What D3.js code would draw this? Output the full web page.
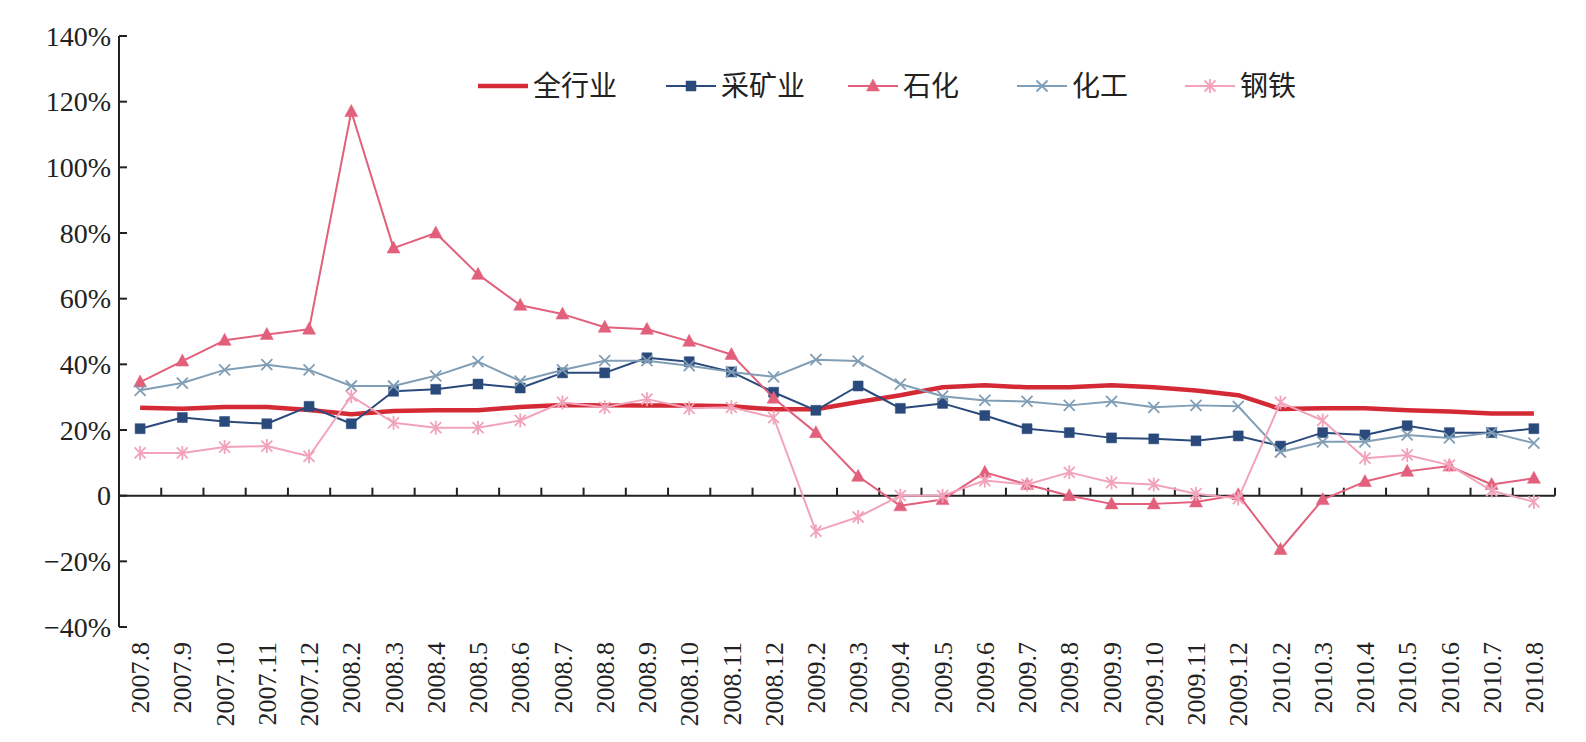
<!DOCTYPE html>
<html>
<head>
<meta charset="utf-8">
<script src="https://cdn.jsdelivr.net/npm/d3@7"></script>
<style>
  body { margin: 0; background: #fff; }
  svg { display: block; }
  .tick-label { font-family: "Liberation Serif", "DejaVu Serif", serif; fill: #222; }
  .legend text { font-family: "Noto Sans CJK SC", sans-serif; fill: #222; }
</style>
</head>
<body>
<svg width="1586" height="742"></svg>
<script>
var months = ["2007.8", "2007.9", "2007.10", "2007.11", "2007.12",
	"2008.2", "2008.3", "2008.4", "2008.5", "2008.6", "2008.7", "2008.8", "2008.9", "2008.10", "2008.11", "2008.12",
	"2009.2", "2009.3", "2009.4", "2009.5", "2009.6", "2009.7", "2009.8", "2009.9", "2009.10", "2009.11", "2009.12",
	"2010.2", "2010.3", "2010.4", "2010.5", "2010.6", "2010.7", "2010.8"];

var yTicks = [-40, -20, 0, 20, 40, 60, 80, 100, 120, 140];

// growth, %
var allIndustry = [26.8, 26.5, 27, 27, 26.1, 24.8, 25.8, 26, 26, 27, 27.6, 27.5, 27.5, 27.5, 27.2, 26.3,
	26.3, 28.5, 30.6, 33, 33.6, 33, 33, 33.6, 33, 32, 30.6,
	26.4, 26.6, 26.6, 26, 25.6, 25, 25];
var mining = [20.4, 23.8, 22.6, 21.9, 27.2, 21.9, 31.8, 32.4, 34, 32.8, 37.4, 37.4, 42, 40.8, 37.7, 31.5,
	26, 33.4, 26.6, 28.1, 24.4, 20.4, 19.2, 17.6, 17.3, 16.7, 18.2,
	15.1, 19.2, 18.5, 21.3, 19.2, 19.2, 20.4];
var petro = [34.6, 41, 47.3, 49.1, 50.7, 117, 75.4, 80, 67.4, 58, 55.3, 51.3, 50.7, 47, 43, 29.7,
	19.2, 5.9, -3.1, -1.2, 7.1, 3.4, 0, -2.5, -2.5, -1.9, 0.3,
	-16.4, -1.2, 4.3, 7.4, 9, 3.4, 5.3];
var chem = [32.1, 34.3, 38.3, 39.9, 38.3, 33.4, 33.4, 36.5, 40.8, 34.9, 38.3, 41.1, 41.1, 39.6, 37.7, 36.2,
	41.4, 41, 34, 30.3, 29, 28.7, 27.5, 28.7, 26.9, 27.5, 27.2,
	13.3, 16.4, 16.4, 18.5, 17.6, 19.2, 16];
var steel = [13, 13, 14.8, 15.1, 12, 30.3, 22.2, 20.7, 20.7, 22.9, 28.4, 26.9, 29.4, 26.6, 26.9, 23.8,
	-10.8, -6.5, 0, 0, 4.6, 3.4, 7.1, 4, 3.4, 0.6, -0.9,
	28.4, 22.9, 11.4, 12.4, 9.3, 1.5, -1.9];

var seriesNames = ["全行业", "采矿业", "石化", "化工", "钢铁"];

var series = [
	{name: seriesNames[0], values: allIndustry, color: "#d42a35", width: 4.5, marker: "none"},
	{name: seriesNames[1], values: mining, color: "#2b4a7c", width: 2, marker: "square"},
	{name: seriesNames[2], values: petro, color: "#e2607c", width: 2, marker: "triangle"},
	{name: seriesNames[3], values: chem, color: "#809eb5", width: 2, marker: "times"},
	{name: seriesNames[4], values: steel, color: "#f2a3ba", width: 2, marker: "asterisk"}
];

var svg = d3.select("svg");

var x = d3.scaleBand()
	.domain(months)
	.range([119, 1555]);

var y = d3.scaleLinear()
	.domain([-40, 140])
	.range([627, 36]);

// y axis
var yAxis = svg.append("g");
yAxis.append("line")
	.attr("x1", 119).attr("x2", 119)
	.attr("y1", y(-40)).attr("y2", y(140))
	.attr("stroke", "#222").attr("stroke-width", 2);
yAxis.selectAll(".ytick")
	.data(yTicks).enter()
	.append("line")
	.attr("x1", 119).attr("x2", 127)
	.attr("y1", function(d) { return y(d); })
	.attr("y2", function(d) { return y(d); })
	.attr("stroke", "#222").attr("stroke-width", 2);
yAxis.selectAll(".ylabel")
	.data(yTicks).enter()
	.append("text")
	.attr("class", "tick-label")
	.attr("x", 111)
	.attr("y", function(d) { return y(d); })
	.attr("dy", "0.35em")
	.attr("text-anchor", "end")
	.style("font-size", "28px")
	.text(function(d) { return d === 0 ? "0" : (d < 0 ? "\u2212" + (-d) : d) + "%"; });

// x axis along zero
var xAxis = svg.append("g");
xAxis.append("line")
	.attr("x1", 119).attr("x2", 1555)
	.attr("y1", y(0)).attr("y2", y(0))
	.attr("stroke", "#222").attr("stroke-width", 2);
xAxis.selectAll(".xtick")
	.data(months).enter()
	.append("line")
	.attr("x1", function(d) { return x(d) + x.bandwidth(); })
	.attr("x2", function(d) { return x(d) + x.bandwidth(); })
	.attr("y1", y(0)).attr("y2", y(0) - 8)
	.attr("stroke", "#222").attr("stroke-width", 2);
xAxis.selectAll(".xlabel")
	.data(months).enter()
	.append("text")
	.attr("class", "tick-label")
	.attr("transform", function(d) { return "translate(" + (x(d) + x.bandwidth() / 2) + ",642) rotate(-90)"; })
	.attr("dy", "0.35em")
	.attr("text-anchor", "end")
	.style("font-size", "26px")
	.text(function(d) { return d; });

function markerPath(type, cx, cy) {
	var p = d3.path();
	if (type === "square") {
		p.rect(cx - 5, cy - 5, 10, 10);
	} else if (type === "triangle") {
		p.moveTo(cx, cy - 7); p.lineTo(cx + 6.5, cy + 5); p.lineTo(cx - 6.5, cy + 5); p.closePath();
	} else if (type === "times" || type === "asterisk") {
		p.moveTo(cx - 5.5, cy - 5.5); p.lineTo(cx + 5.5, cy + 5.5);
		p.moveTo(cx - 5.5, cy + 5.5); p.lineTo(cx + 5.5, cy - 5.5);
		if (type === "asterisk") { p.moveTo(cx, cy - 7); p.lineTo(cx, cy + 7); }
	}
	return p.toString();
}

function drawMarker(g, s, cx, cy) {
	if (s.marker === "none") return;
	var filled = s.marker === "square" || s.marker === "triangle";
	g.append("path")
		.attr("d", markerPath(s.marker, cx, cy))
		.attr("fill", filled ? s.color : "none")
		.attr("stroke", s.color)
		.attr("stroke-width", filled ? 0.5 : 1.8);
}

var line = d3.line()
	.x(function(d, i) { return x(months[i]) + x.bandwidth() / 2; })
	.y(function(d) { return y(d); });

series.forEach(function(s) {
	var g = svg.append("g");
	g.append("path")
		.datum(s.values)
		.attr("d", line)
		.attr("fill", "none")
		.attr("stroke", s.color)
		.attr("stroke-width", s.width)
		.attr("stroke-linejoin", "round");
	s.values.forEach(function(v, i) {
		drawMarker(g, s, x(months[i]) + x.bandwidth() / 2, y(v));
	});
});

// legend
var legendX = [478, 666, 848, 1017, 1185];
var legend = svg.append("g").attr("class", "legend");
series.forEach(function(s, i) {
	var lx = legendX[i], ly = 86;
	var lg = legend.append("g");
	lg.append("line")
		.attr("x1", lx).attr("x2", lx + 50)
		.attr("y1", ly).attr("y2", ly)
		.attr("stroke", s.color)
		.attr("stroke-width", s.width);
	drawMarker(lg, s, lx + 25, ly);
	lg.append("text")
		.attr("x", lx + 55)
		.attr("y", ly)
		.attr("dy", "0.36em")
		.style("font-size", "28px")
		.text(s.name);
});
</script>
</body>
</html>
